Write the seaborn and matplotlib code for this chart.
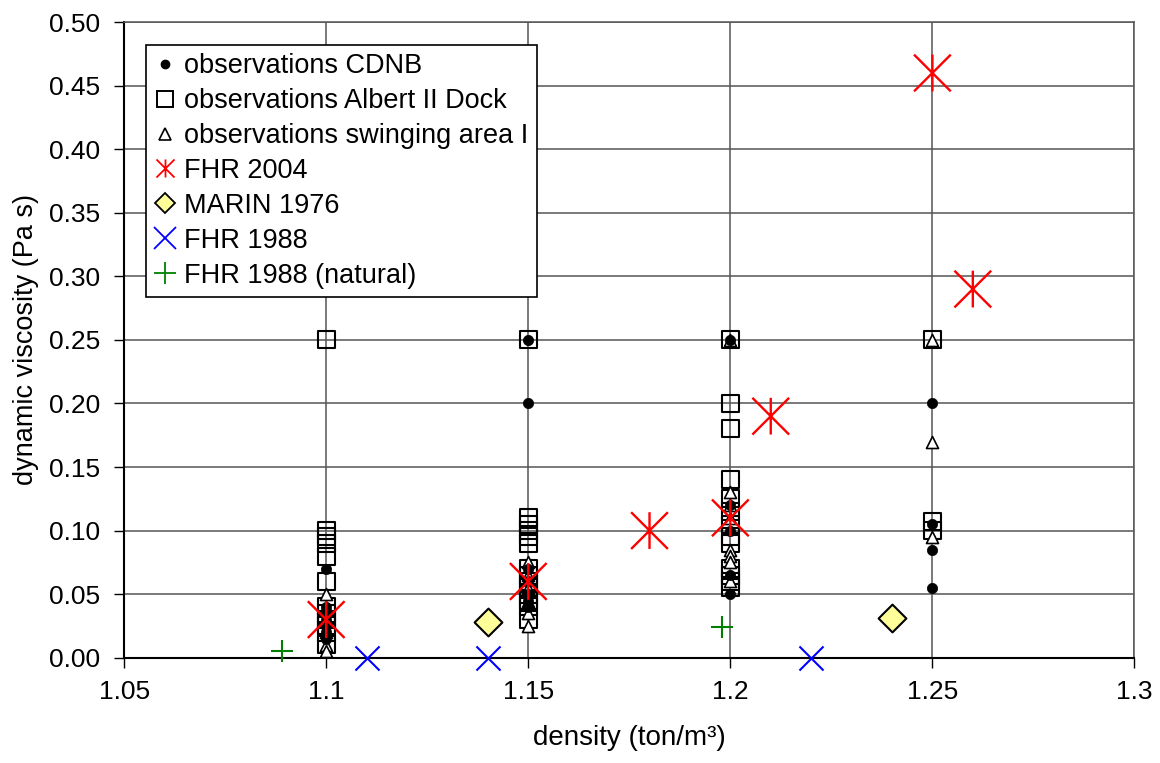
import numpy as np
import pandas as pd
import matplotlib
matplotlib.use("Agg")
import matplotlib.pyplot as plt
from matplotlib.path import Path
from matplotlib.lines import Line2D
import seaborn as sns

# ---- data ----
cdnb_x = [1.1]*7 + [1.15]*7 + [1.2]*5 + [1.25]*4
cdnb_y = [0.07, 0.04, 0.035, 0.03, 0.025, 0.02, 0.015,
          0.25, 0.20, 0.07, 0.06, 0.05, 0.045, 0.04,
          0.25, 0.12, 0.10, 0.065, 0.05,
          0.20, 0.105, 0.085, 0.055]

albert_x = [1.1]*12 + [1.15]*14 + [1.2]*13 + [1.25]*3
albert_y = [0.25, 0.10, 0.095, 0.09, 0.08, 0.06, 0.04, 0.035, 0.03, 0.025, 0.02, 0.01,
            0.25, 0.11, 0.105, 0.10, 0.095, 0.09, 0.07, 0.065, 0.06, 0.055, 0.05, 0.045, 0.04, 0.03,
            0.25, 0.20, 0.18, 0.14, 0.125, 0.115, 0.105, 0.095, 0.09, 0.07, 0.065, 0.06, 0.055,
            0.25, 0.107, 0.10]

swing_x = [1.1]*6 + [1.15]*6 + [1.2]*8 + [1.25]*3
swing_y = [0.05, 0.04, 0.03, 0.02, 0.01, 0.005,
           0.075, 0.065, 0.055, 0.045, 0.035, 0.025,
           0.25, 0.13, 0.12, 0.11, 0.085, 0.08, 0.075, 0.06,
           0.25, 0.17, 0.095]

fhr2004_x = [1.1, 1.15, 1.18, 1.2, 1.21, 1.25, 1.26]
fhr2004_y = [0.03, 0.06, 0.10, 0.11, 0.19, 0.46, 0.29]

marin_x = [1.14, 1.24]
marin_y = [0.028, 0.031]

fhr1988_x = [1.11, 1.14, 1.22]
fhr1988_y = [0.0, 0.0, 0.0]

nat_x = [1.089, 1.198]
nat_y = [0.005, 0.024]

x_ticks = [1.05, 1.1, 1.15, 1.2, 1.25, 1.3]
x_ticklabels = ["1.05", "1.1", "1.15", "1.2", "1.25", "1.3"]
y_ticks = [0.0, 0.05, 0.10, 0.15, 0.20, 0.25, 0.30, 0.35, 0.40, 0.45, 0.50]

labels = ["observations CDNB", "observations Albert II Dock",
          "observations swinging area I", "FHR 2004", "MARIN 1976",
          "FHR 1988", "FHR 1988 (natural)"]

# ---- style ----
sns.set_theme(style="white")
plt.rcParams['font.family'] = ['Liberation Sans', 'DejaVu Sans']
plt.rcParams['text.color'] = 'black'
plt.rcParams['axes.labelcolor'] = 'black'
plt.rcParams['xtick.color'] = 'black'
plt.rcParams['ytick.color'] = 'black'

asterisk = Path([(-1, -1), (1, 1), (-1, 1), (1, -1), (0, -1), (0, 1)],
                [Path.MOVETO, Path.LINETO, Path.MOVETO, Path.LINETO, Path.MOVETO, Path.LINETO])

fig, ax = plt.subplots(figsize=(11.6, 7.63), dpi=100)
fig.subplots_adjust(left=0.107, right=0.978, top=0.971, bottom=0.138)

def df(x, y):
    return pd.DataFrame({"density": x, "viscosity": y})

kw = dict(ax=ax, x="density", y="viscosity", legend=False, clip_on=False, zorder=3)

sns.scatterplot(data=df(albert_x, albert_y), marker="s", s=150, facecolor="none",
                edgecolor="black", linewidth=1.5, **kw)
sns.scatterplot(data=df(swing_x, swing_y), marker="^", s=75, facecolor="white",
                edgecolor="black", linewidth=1.2, **kw)
sns.scatterplot(data=df(cdnb_x, cdnb_y), marker="o", s=55, color="black",
                edgecolor="black", linewidth=0.5, **kw)
sns.scatterplot(data=df(marin_x, marin_y), marker="D", s=200, color="#FFFF99",
                edgecolor="black", linewidth=1.5, **kw)
sns.scatterplot(data=df(fhr1988_x, fhr1988_y), marker="x", s=300, color="#0000FF",
                linewidth=1.5, **kw)
sns.scatterplot(data=df(nat_x, nat_y), marker="+", s=260, color="#008000",
                linewidth=1.5, **kw)
sns.scatterplot(data=df(fhr2004_x, fhr2004_y), marker=asterisk, s=700, color="red",
                edgecolor="red", facecolor="none", linewidth=1.7, **kw)

ax.set_xlim(1.05, 1.3)
ax.set_ylim(0, 0.5)
ax.set_xticks(x_ticks)
ax.set_xticklabels(x_ticklabels)
ax.set_yticks(y_ticks)
ax.set_yticklabels([f"{v:.2f}" for v in y_ticks])
ax.tick_params(axis="both", which="major", direction="out", length=7.2, width=1,
               color="black", labelsize=19, bottom=True, left=True,
               labelcolor="black")
ax.tick_params(axis="x", pad=9)
ax.tick_params(axis="y", pad=10)
ax.grid(True, color="#555555", linewidth=1.1)
ax.set_axisbelow(True)
for side in ["top", "right"]:
    ax.spines[side].set_color("#555555")
    ax.spines[side].set_linewidth(1.1)
for side in ["left", "bottom"]:
    ax.spines[side].set_color("black")
    ax.spines[side].set_linewidth(1.5)

ax.set_xlabel("density (ton/m³)", fontsize=20, labelpad=15)
ax.set_ylabel("dynamic viscosity (Pa s)", fontsize=19.5, labelpad=7)

handles = [
    Line2D([], [], ls="none", marker="o", ms=6, mfc="black", mec="black"),
    Line2D([], [], ls="none", marker="s", ms=11, mfc="none", mec="black", mew=1.4),
    Line2D([], [], ls="none", marker="^", ms=8, mfc="none", mec="black", mew=1.2),
    Line2D([], [], ls="none", marker=asterisk, ms=13, color="red", mew=1.3),
    Line2D([], [], ls="none", marker="D", ms=10, mfc="#FFFF99", mec="black", mew=1.3),
    Line2D([], [], ls="none", marker="x", ms=16, color="#0000FF", mew=1.3),
    Line2D([], [], ls="none", marker="+", ms=16, color="#008000", mew=1.3),
]
leg = ax.legend(handles, labels, loc="upper left", bbox_to_anchor=(0.022, 0.964),
                fontsize=19.5, frameon=True, fancybox=False, framealpha=1,
                edgecolor="black", handlelength=0.8, handletextpad=0.3,
                labelspacing=0.33, borderpad=0.3, borderaxespad=0)
leg.get_frame().set_linewidth(1.2)
leg.set_zorder(10)

fig.savefig("out.png", dpi=100, facecolor="white")
